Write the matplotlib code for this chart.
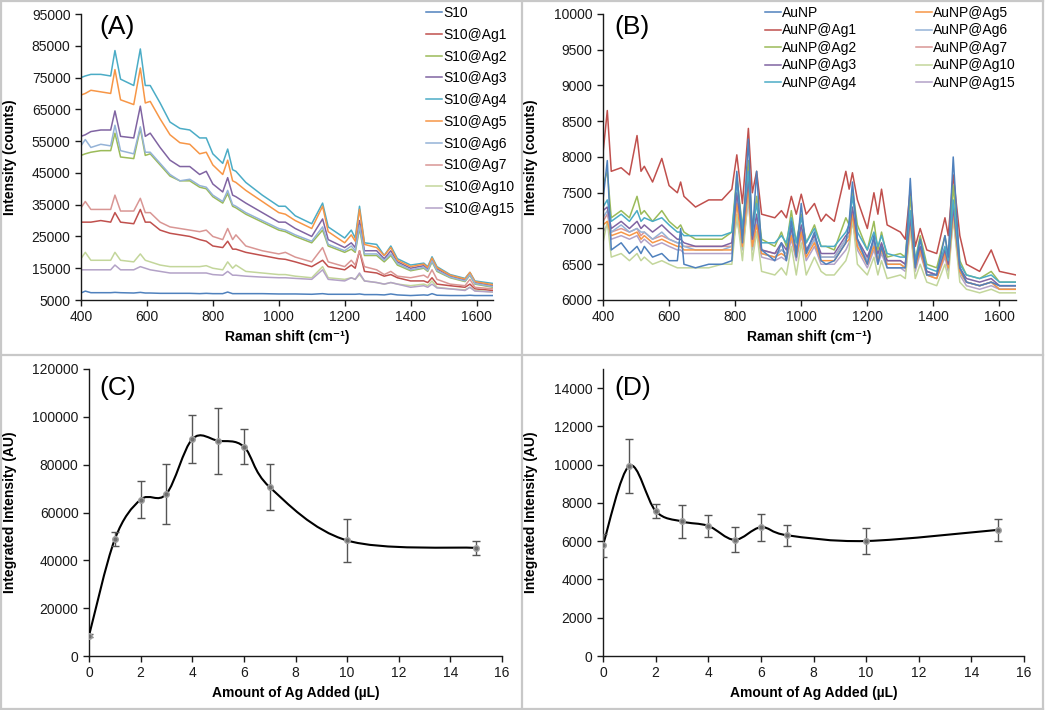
import matplotlib
matplotlib.use("Agg")
import matplotlib.pyplot as plt
import numpy as np
from matplotlib.lines import Line2D
from matplotlib.patches import PathPatch
from matplotlib.path import Path

plt.rcParams['font.family'] = ['Liberation Sans', 'DejaVu Sans']
plt.rcParams['font.size'] = 10

# ---------------- panel A: S10 spectra (values in thousands of counts) ----------------
shift_a = [400, 413, 430, 460, 490, 503, 520, 560, 580, 595, 610, 640, 670, 700, 730,
           760, 780, 800, 830, 845, 860, 870, 900, 950, 1000, 1020, 1050, 1100, 1133, 1150,
           1200, 1220, 1232, 1245, 1260, 1297, 1320, 1340, 1360, 1400, 1440, 1452, 1465, 1480,
           1520, 1565, 1580, 1595, 1650]

s10 = [7.2, 7.8, 7.3, 7.3, 7.3, 7.4, 7.3, 7.2, 7.4, 7.2, 7.2, 7.1, 7.1, 7.1, 7.1, 7, 7.1,
       7, 7, 7.5, 7, 7, 7, 7, 6.9, 6.9, 6.9, 6.8, 7, 6.8, 6.8, 6.8, 6.8, 6.9, 6.7, 6.7, 6.6,
       6.9, 6.6, 6.4, 6.6, 6.5, 7, 6.5, 6.4, 6.4, 6.5, 6.4, 6.4]
s10_ag1 = [29.5, 29.5, 29.5, 30, 29.5, 32.5, 29.5, 29, 33.5, 29.5, 29.5, 27, 26, 25.5, 25,
           24, 23.5, 22, 21.5, 23.5, 21, 21, 20, 19, 18, 17.8, 17, 15.5, 17.5, 15.5, 14.5,
           16, 15, 20.5, 14, 13.5, 12.5, 13, 12, 11, 11, 10.5, 12, 10, 9.5, 9, 10, 8.5, 8]
s10_ag2 = [50.5, 51, 51.5, 52, 52, 57.5, 50, 49.5, 59, 50.5, 51, 47.5, 44, 42.5, 42.5, 40.5,
           40, 37.5, 35.5, 38.5, 34.5, 34, 32, 29.5, 27, 26.5, 25, 23, 27, 22, 20, 21, 20,
           27.5, 19, 19, 17, 19, 16, 14.2, 15, 14, 17, 14, 12, 10.8, 12.8, 10, 9]
s10_ag3 = [56.5, 57, 58, 58.5, 58.5, 64.5, 56.5, 56, 66, 56.5, 57.5, 53, 49, 47, 47, 44.5,
           45.5, 41.5, 39, 43.5, 38, 37.5, 35.5, 32.5, 29.5, 29.5, 27.5, 25, 30.5, 24, 21.5,
           23, 21.5, 30, 20.5, 20.5, 18, 20.5, 17, 15, 15.8, 14.8, 17.8, 14.8, 12.5, 11.3,
           13.3, 10.5, 9.5]
s10_ag4 = [75, 75.5, 76, 76, 75.5, 83.5, 74.5, 72.5, 84, 72.5, 72.5, 67, 61, 59, 58.5, 56,
           56, 51, 48, 52.5, 46, 45.5, 42, 38, 34.5, 34.5, 31.5, 29, 35.5, 28, 24.5, 27,
           24.5, 34.5, 23, 22.5, 19, 22, 18, 16, 16.6, 15.5, 18.6, 15.5, 13, 11.8, 13.7, 11,
           10.2]
s10_ag5 = [69.5, 70, 71, 70.5, 70, 77.5, 68, 66.5, 78, 67, 67.5, 62, 57, 54.5, 54, 51, 51.5,
           47.5, 44.5, 49, 42.5, 42, 39.5, 36, 32.5, 32, 30, 27.5, 34.5, 26.5, 23, 25.5, 23.5,
           33.5, 22.5, 21.5, 19, 21.5, 17.5, 15.5, 16.3, 15.2, 18.2, 15.2, 12.8, 11.6, 13.7,
           10.8, 9.8]
s10_ag6 = [53.5, 55.5, 53, 54, 53.5, 60, 52, 51, 59.5, 51.5, 51.5, 48, 44.5, 42.5, 43, 41,
           40.5, 38, 36, 39.5, 35, 34.5, 32.5, 30, 27.5, 27, 25.5, 23.5, 28, 22.5, 20.5, 22,
           20.5, 28.5, 19.5, 19.5, 17.5, 19.5, 16.5, 14.5, 15.3, 14.3, 17.3, 14.3, 12.2, 11,
           13, 10.2, 9.2]
s10_ag7 = [34, 36, 33.5, 33.5, 33.5, 38, 33, 33, 37, 32.5, 32.5, 29.5, 28, 27.5, 27, 26.5,
           27, 25, 24, 27.5, 24, 25.5, 22, 20.5, 19.5, 20, 18.5, 17, 21.5, 17, 15.5, 17.5, 16,
           20.5, 15.5, 14.5, 13, 14, 12.5, 12, 12.8, 12, 14.5, 11.5, 10, 9.5, 11.5, 9, 8.5]
s10_ag10 = [18, 20, 17.5, 17.5, 17.5, 20, 17.5, 17, 19.5, 17.5, 17, 16, 15.5, 15.5, 15.5,
            15.5, 15.8, 15, 14.5, 17, 15, 16, 14, 13.5, 13, 13, 12.5, 12, 15.5, 12, 11.5, 12,
            11.5, 13, 11, 10.5, 10, 10.5, 10, 9.5, 10, 9.5, 11, 9, 8.5, 8.2, 9, 8, 7.5]
s10_ag15 = [14.5, 14.5, 14.5, 14.5, 14.5, 16, 14.5, 14.5, 15.5, 15, 14.5, 14, 13.5, 13.5,
            13.5, 13.5, 13.5, 13, 12.8, 14, 12.8, 12.8, 12.5, 12.2, 12, 12, 11.8, 11.5, 14.5,
            11.5, 11, 12, 11.5, 13.5, 11, 10.5, 10, 10.5, 10, 9, 9.5, 9, 10, 8.8, 8.5, 8, 9,
            7.8, 7.5]

labels_a = ["S10", "S10@Ag1", "S10@Ag2", "S10@Ag3", "S10@Ag4", "S10@Ag5",
            "S10@Ag6", "S10@Ag7", "S10@Ag10", "S10@Ag15"]
series_a = [s10, s10_ag1, s10_ag2, s10_ag3, s10_ag4, s10_ag5,
            s10_ag6, s10_ag7, s10_ag10, s10_ag15]

# ---------------- panel B: AuNP spectra (counts) ----------------
shift_b = [400, 413, 425, 455, 480, 503, 515, 525, 550, 578, 600, 625, 635, 645, 680,
           720, 760, 790, 805, 822, 840, 852, 865, 880, 920, 940, 955, 970, 985, 1000,
           1015, 1040, 1060, 1075, 1100, 1135, 1145, 1155, 1170, 1200, 1220, 1232, 1243, 1260,
           1300, 1315, 1330, 1345, 1360, 1380, 1410, 1435, 1445, 1460, 1480, 1500, 1540, 1575,
           1600, 1650]

aunp = [7400, 7950, 6700, 6800, 6650, 6750, 6650, 6750, 6600, 6650, 6550, 6550, 7000, 6500,
        6450, 6500, 6500, 6550, 7800, 6800, 8250, 6900, 7800, 6700, 6550, 6800, 6550, 7100,
        6600, 7350, 6650, 6950, 6550, 6500, 6550, 6800, 7100, 7650, 6850, 6500, 6900, 6500,
        6750, 6450, 6450, 6450, 7700, 6450, 6850, 6350, 6350, 6900, 6600, 8000, 6450, 6250,
        6200, 6250, 6200, 6200]
aunp_ag1 = [8050, 8650, 7800, 7850, 7750, 8300, 7800, 7870, 7650, 7980, 7600, 7500, 7650,
            7450, 7300, 7400, 7400, 7550, 8030, 7350, 8400, 7500, 7800, 7200, 7150, 7250, 7150,
            7450, 7200, 7480, 7200, 7350, 7100, 7200, 7100, 7800, 7550, 7780, 7400, 7000, 7500,
            7200, 7550, 7050, 6950, 6850, 7550, 6750, 7000, 6700, 6650, 7150, 6900, 7750, 6900,
            6500, 6400, 6700, 6400, 6350]
aunp_ag2 = [7600, 7800, 7150, 7250, 7150, 7450, 7200, 7250, 7100, 7250, 7100, 7000, 7050,
            6950, 6850, 6850, 6850, 6950, 7750, 7000, 7950, 7000, 7450, 6850, 6750, 6950, 6750,
            7250, 6800, 7200, 6800, 7050, 6750, 6750, 6700, 7150, 7050, 7550, 7050, 6700, 7100,
            6700, 6950, 6600, 6650, 6600, 7450, 6550, 6900, 6500, 6450, 6900, 6600, 7600, 6550,
            6350, 6300, 6400, 6250, 6250]
aunp_ag3 = [7250, 7300, 7000, 7100, 7000, 7100, 7000, 7050, 6950, 7050, 6950, 6850, 6850,
            6800, 6750, 6750, 6750, 6800, 7500, 6900, 7700, 6850, 7200, 6700, 6650, 6800, 6700,
            7000, 6700, 7050, 6700, 6900, 6650, 6650, 6650, 6900, 6950, 7300, 6850, 6600, 6850,
            6650, 6800, 6550, 6550, 6500, 7150, 6500, 6750, 6400, 6350, 6700, 6500, 7300, 6450,
            6300, 6250, 6300, 6200, 6200]
aunp_ag4 = [7300, 7400, 7100, 7200, 7100, 7250, 7100, 7150, 7100, 7150, 7050, 6950, 6950,
            6900, 6900, 6900, 6900, 6950, 7650, 7000, 7800, 6950, 7350, 6800, 6800, 6900, 6800,
            7150, 6800, 7150, 6800, 7000, 6750, 6750, 6750, 6950, 7050, 7450, 6950, 6700, 6950,
            6750, 6900, 6650, 6600, 6600, 7250, 6550, 6850, 6450, 6400, 6750, 6550, 7400, 6500,
            6350, 6300, 6350, 6250, 6250]
aunp_ag5 = [7050, 7100, 6900, 6950, 6900, 6950, 6850, 6900, 6800, 6850, 6800, 6750, 6750,
            6700, 6700, 6700, 6700, 6700, 7350, 6750, 7600, 6750, 7050, 6650, 6600, 6650, 6600,
            6900, 6600, 6950, 6600, 6800, 6550, 6550, 6550, 6800, 6850, 7200, 6750, 6500, 6750,
            6550, 6700, 6500, 6500, 6450, 7100, 6450, 6700, 6350, 6300, 6650, 6450, 7250, 6400,
            6250, 6200, 6250, 6150, 6150]
aunp_ag6 = [7150, 7250, 6950, 7050, 6950, 7000, 6950, 6950, 6850, 6950, 6850, 6800, 6800,
            6750, 6700, 6700, 6700, 6750, 7450, 6800, 7650, 6800, 7150, 6650, 6600, 6700, 6650,
            6950, 6650, 7000, 6650, 6850, 6600, 6600, 6600, 6850, 6900, 7250, 6800, 6550, 6800,
            6600, 6750, 6500, 6500, 6450, 7150, 6450, 6700, 6400, 6350, 6700, 6450, 7350, 6400,
            6250, 6200, 6250, 6150, 6150]
aunp_ag7 = [7100, 7200, 6950, 7000, 6950, 7000, 6900, 6950, 6850, 6900, 6850, 6800, 6800,
            6750, 6750, 6750, 6750, 6750, 7400, 6800, 7600, 6800, 7100, 6700, 6650, 6700, 6650,
            6950, 6650, 7000, 6650, 6850, 6600, 6600, 6600, 6850, 6900, 7250, 6800, 6550, 6800,
            6600, 6750, 6550, 6550, 6500, 7150, 6450, 6700, 6400, 6350, 6700, 6500, 7300, 6400,
            6250, 6200, 6250, 6200, 6200]
aunp_ag10 = [6800, 7100, 6600, 6650, 6550, 6650, 6550, 6600, 6500, 6550, 6500, 6450, 6450,
             6450, 6450, 6450, 6500, 6500, 7200, 6550, 7500, 6550, 6950, 6400, 6350, 6450, 6350,
             6750, 6350, 6800, 6350, 6600, 6400, 6350, 6350, 6550, 6700, 7150, 6500, 6350, 6600,
             6350, 6550, 6300, 6350, 6300, 7000, 6300, 6500, 6250, 6200, 6500, 6300, 7150, 6250,
             6150, 6100, 6150, 6100, 6100]
aunp_ag15 = [6950, 7050, 6850, 6900, 6850, 6900, 6800, 6850, 6750, 6800, 6750, 6700, 6700,
             6650, 6650, 6650, 6650, 6650, 7150, 6700, 7400, 6700, 6950, 6600, 6550, 6600, 6550,
             6850, 6550, 6900, 6550, 6750, 6500, 6500, 6500, 6700, 6800, 7100, 6700, 6450, 6700,
             6500, 6650, 6450, 6450, 6400, 7000, 6400, 6650, 6350, 6300, 6600, 6400, 7150, 6350,
             6200, 6150, 6200, 6150, 6150]

labels_b = ["AuNP", "AuNP@Ag1", "AuNP@Ag2", "AuNP@Ag3", "AuNP@Ag4",
            "AuNP@Ag5", "AuNP@Ag6", "AuNP@Ag7", "AuNP@Ag10", "AuNP@Ag15"]
series_b = [aunp, aunp_ag1, aunp_ag2, aunp_ag3, aunp_ag4,
            aunp_ag5, aunp_ag6, aunp_ag7, aunp_ag10, aunp_ag15]

# ---------------- panels C and D: integrated intensity ----------------
ag_added = [0, 1, 2, 3, 4, 5, 6, 7, 10, 15]
integ_s10 = [8500, 48800, 65400, 67800, 90700, 90000, 87500, 70600, 48300, 45200]
integ_s10_err = [600, 3000, 7700, 12600, 9900, 13800, 7400, 9500, 8900, 2900]
integ_aunp = [5800, 9940, 7580, 7030, 6800, 6070, 6730, 6310, 6010, 6590]
integ_aunp_err = [600, 1400, 370, 850, 580, 660, 700, 540, 660, 570]

# Excel 2010 default line colours
colors = ["#4F81BD", "#C0504D", "#9BBB59", "#8064A2", "#4BACC6",
          "#F79646", "#95B3D7", "#D99694", "#C3D69B", "#B3A2C7"]


def style_axes(ax):
    for side in ("top", "right"):
        ax.spines[side].set_visible(False)
    for side in ("left", "bottom"):
        ax.spines[side].set_color("#1a1a1a")
        ax.spines[side].set_linewidth(1.0)
    ax.tick_params(direction="out", length=4, width=1.0, color="#1a1a1a",
                   labelsize=10, labelcolor="#1a1a1a")


def excel_smooth(ax, x, y, **kw):
    # Excel style smoothed line: cubic Bezier through every point
    pts = np.column_stack([x, y]).astype(float)
    n = len(pts)
    verts = [pts[0]]
    codes = [Path.MOVETO]
    for i in range(n - 1):
        p0 = pts[i - 1] if i > 0 else pts[i]
        p1, p2 = pts[i], pts[i + 1]
        p3 = pts[i + 2] if i + 2 < n else pts[i + 1]
        verts += [p1 + (p2 - p0) / 6, p2 - (p3 - p1) / 6, p2]
        codes += [Path.CURVE4] * 3
    ax.add_patch(PathPatch(Path(verts, codes), fill=False, **kw))


fig = plt.figure(figsize=(10.5, 7.1), dpi=100)
W, H = 1050, 710


def axes_px(left, top, right, bottom):
    return fig.add_axes([left / W, 1 - bottom / H, (right - left) / W, (bottom - top) / H])


ax_a = axes_px(81, 14, 493, 300)
ax_b = axes_px(603, 14, 1016, 300)
ax_c = axes_px(89, 369, 502, 656)
ax_d = axes_px(603, 369, 1024, 656)

# panel A
for vals, lab, col in zip(series_a, labels_a, colors):
    ax_a.plot(shift_a, np.array(vals) * 1000, color=col, lw=1.1, label=lab)
ax_a.set_xlim(400, 1650)
ax_a.set_ylim(5000, 95000)
ax_a.set_yticks(np.arange(5000, 95001, 10000))
ax_a.set_xticks(np.arange(400, 1601, 200))
h, l = ax_a.get_legend_handles_labels()
fig.legend(h, l, loc="upper left", bbox_to_anchor=(426 / W, 1 - 6 / H), frameon=False,
           fontsize=10, handlelength=1.15, handletextpad=0.1, labelspacing=0.56,
           borderpad=0, borderaxespad=0)

# panel B (draw order: AuNP on top like the reference)
order_b = [1, 9, 8, 7, 6, 5, 3, 2, 4, 0]
for i in order_b:
    ax_b.plot(shift_b, series_b[i], color=colors[i], lw=1.1)
ax_b.set_xlim(400, 1650)
ax_b.set_ylim(6000, 10000)
ax_b.set_yticks(np.arange(6000, 10001, 500))
ax_b.set_xticks(np.arange(400, 1601, 200))
handles_b = [Line2D([], [], color=c, lw=1.1) for c in colors]
fig.legend(handles_b, labels_b, loc="upper left", ncol=2,
           bbox_to_anchor=(765 / W, 1 - 6 / H), frameon=False, fontsize=10,
           handlelength=1.15, handletextpad=0.1, labelspacing=0.25, columnspacing=4.2,
           borderpad=0, borderaxespad=0)

for ax in (ax_a, ax_b):
    ax.set_xlabel("Raman shift (cm\u207b\u00b9)", fontweight="bold", fontsize=10)
    ax.set_ylabel("Intensity (counts)", fontweight="bold", fontsize=10)
    ax.xaxis.set_label_coords(0.5, -0.105)
ax_a.yaxis.set_label_coords(-0.155, 0.5)
ax_b.yaxis.set_label_coords(-0.157, 0.5)

# panels C and D
for ax, yv, ye in ((ax_c, integ_s10, integ_s10_err), (ax_d, integ_aunp, integ_aunp_err)):
    excel_smooth(ax, ag_added, yv, edgecolor="black", lw=1.5, zorder=3)
    ax.errorbar(ag_added, yv, yerr=ye, fmt="o", ms=4, color="#6e6e6e", mec="#a0a0a0",
                ecolor="#555555", elinewidth=1.0, capsize=3, capthick=1.0, zorder=4)
    ax.set_xlim(0, 16)
    ax.set_xticks(np.arange(0, 17, 2))
    ax.set_xlabel("Amount of Ag Added (\u00b5L)", fontweight="bold", fontsize=10)
    ax.set_ylabel("Integrated Intensity (AU)", fontweight="bold", fontsize=10)
    ax.xaxis.set_label_coords(0.5, -0.105)
ax_c.set_ylim(0, 120000)
ax_c.set_yticks(np.arange(0, 120001, 20000))
ax_d.set_ylim(0, 15000)
ax_d.set_yticks(np.arange(0, 14001, 2000))
ax_c.yaxis.set_label_coords(-0.174, 0.5)
ax_d.yaxis.set_label_coords(-0.154, 0.5)

for ax in (ax_a, ax_b, ax_c, ax_d):
    style_axes(ax)

# panel letters
for ax, txt, (px, py) in ((ax_a, "(A)", (99, 27)), (ax_b, "(B)", (614, 27)),
                          (ax_c, "(C)", (99, 388)), (ax_d, "(D)", (614, 388))):
    fig.text(px / W, 1 - py / H, txt, fontsize=19, ha="left", va="center")

# grey frames around the four panels
frame_kw = dict(color="#c8c8c8", lw=1.6, transform=fig.transFigure)
for x0 in (1, 522, 1043):
    fig.add_artist(Line2D([x0 / W, x0 / W], [0, 1], **frame_kw))
for y0 in (1, 355, 709):
    fig.add_artist(Line2D([1 / W, 1043 / W], [1 - y0 / H, 1 - y0 / H], **frame_kw))

fig.savefig("out.png", dpi=100)
